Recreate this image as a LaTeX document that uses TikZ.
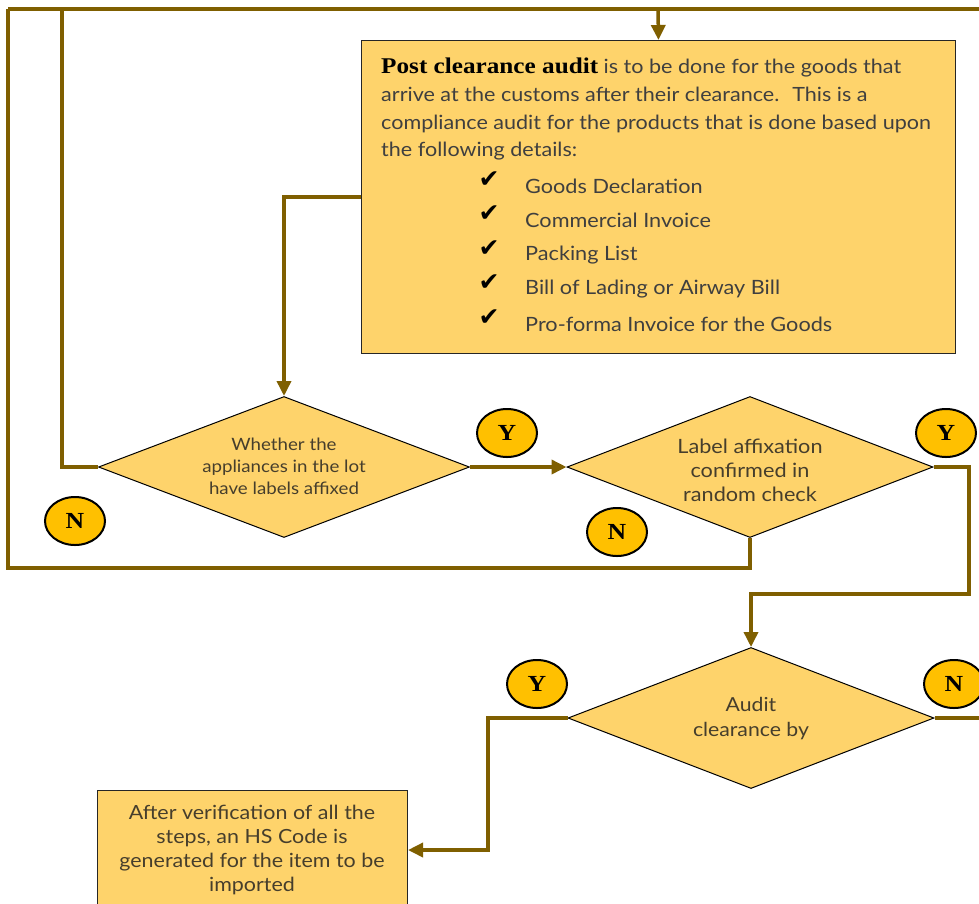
\documentclass[tikz,border=0pt]{standalone}
\usepackage{fontspec}
\setmainfont{Lato}[FakeStretch=1.1]
\newfontfamily\boldserif{Liberation Serif}[FakeStretch=1.12]
\newfontfamily\symfont{DejaVu Sans}
\usetikzlibrary{shapes.geometric,arrows.meta}
\definecolor{linebrown}{HTML}{7F5F00}
\definecolor{boxfill}{HTML}{FED36B}
\definecolor{circfill}{HTML}{FFC000}
\definecolor{txtgray}{HTML}{3F3F3F}
\definecolor{dgray}{HTML}{463E2C}
\tikzset{
  conn/.style={draw=linebrown, line width=3.5pt},
  arr/.style={conn, -{Triangle[length=15pt,width=14pt]}},
  infobox/.style={draw=black!85, line width=1pt, fill=boxfill, rectangle, inner sep=0pt},
  decision/.style={draw=black, line width=1pt, fill=boxfill, diamond, inner sep=0pt},
  yn/.style={ellipse, draw=black, line width=2pt, fill=circfill, minimum width=60pt, minimum height=48pt, inner sep=0pt, font=\boldserif\bfseries\fontsize{23}{23}\selectfont},
  dtext/.style={align=center, text=dgray, inner sep=0pt},
  checkmk/.style={font=\symfont\bfseries\fontsize{25}{25}\selectfont, inner sep=0pt},
  item/.style={anchor=west, text=txtgray, font=\fontsize{19.7}{20}\selectfont, inner sep=0pt}
}
\begin{document}
\begin{tikzpicture}[x=1pt,y=-1pt]
\useasboundingbox (0,0) rectangle (979,903);
% main box
\node[infobox, minimum width=594pt, minimum height=313pt, anchor=north west] (pca) at (361,40) {};
\node[anchor=north west, align=left, text=txtgray, inner sep=0pt,
      font=\fontsize{19.6}{27.7}\selectfont] (pcatext) at (381,58)
  {{\color{black}\boldserif\bfseries\fontsize{22.5}{22}\selectfont Post clearance audit} is to be done for the goods that\\
   arrive at the customs after their clearance.~ This is a\\
   compliance audit for the products that is done based upon\\
   the following details:};
\node[checkmk] (c1) at (489,180) {✔};
\node[checkmk] (c2) at (489,214) {✔};
\node[checkmk] (c3) at (489,249) {✔};
\node[checkmk] (c4) at (489,283) {✔};
\node[checkmk] (c5) at (489,318) {✔};
\node[item] (i1) at (525,186) {Goods Declaration};
\node[item] (i2) at (525,220) {Commercial Invoice};
\node[item] (i3) at (525,255) {Packing List};
\node[item] (i4) at (525,289) {Bill of Lading or Airway Bill};
\node[item] (i5) at (525,324) {Pro-forma Invoice for the Goods};
% diamonds
\node[decision, minimum width=371pt, minimum height=141pt] (d1) at (284,467) {};
\node[dtext, font=\fontsize{17}{22}\selectfont] (d1t) at (284,466) {Whether the\\appliances in the lot\\have labels affixed};
\node[decision, minimum width=366pt, minimum height=141pt] (d2) at (750,467) {};
\node[dtext, font=\fontsize{19.7}{24}\selectfont] (d2t) at (750,470) {Label affixation\\confirmed in\\random check};
\node[decision, minimum width=366pt, minimum height=141pt] (d3) at (751,718) {};
\node[dtext, font=\fontsize{19.3}{25}\selectfont] (d3t) at (751,719) {Audit\\clearance by};
% bottom box
\node[infobox, minimum width=310pt, minimum height=120pt, anchor=north west] (hs) at (97,790) {};
\node[dtext, font=\fontsize{19.5}{24}\selectfont] (hst) at (252,850) {After verification of all the\\steps, an HS Code is\\generated for the item to be\\imported};
% Y/N markers
\node[yn] (y1) at (507,433) {Y};
\node[yn] (y2) at (946,433) {Y};
\node[yn] (n1) at (75,521) {N};
\node[yn] (n2) at (617,532) {N};
\node[yn] (y3) at (537,684) {Y};
\node[yn] (n3) at (954,684) {N};
% coordinates
\coordinate (tl) at (8,9);
\coordinate (tr) at (985,9);
\coordinate (tin) at (62,9);
\coordinate (tmid) at (658,9);
\coordinate (bl) at (8,568);
\coordinate (rr) at (969,594);
\coordinate (yleft) at (488,850);
\coordinate (nright) at (985,718);
% connectors
\draw[conn] (tl) -- (tr);
\draw[arr] (tmid) -- (pca.north);
\draw[arr] (pca.west) -| (d1.north);
\draw[arr] (d1.east) -- (d2.west);
\draw[conn] (d1.west) -| (tin);
\draw[conn] (d2.south) |- (bl) -- (tl);
\draw[arr] (d2.east) -| (rr) -| (d3.north);
\draw[arr] (d3.west) -| (yleft) -- (hs.east |- yleft);
\draw[conn] (d3.east) -- (nright);
\end{tikzpicture}
\end{document}
